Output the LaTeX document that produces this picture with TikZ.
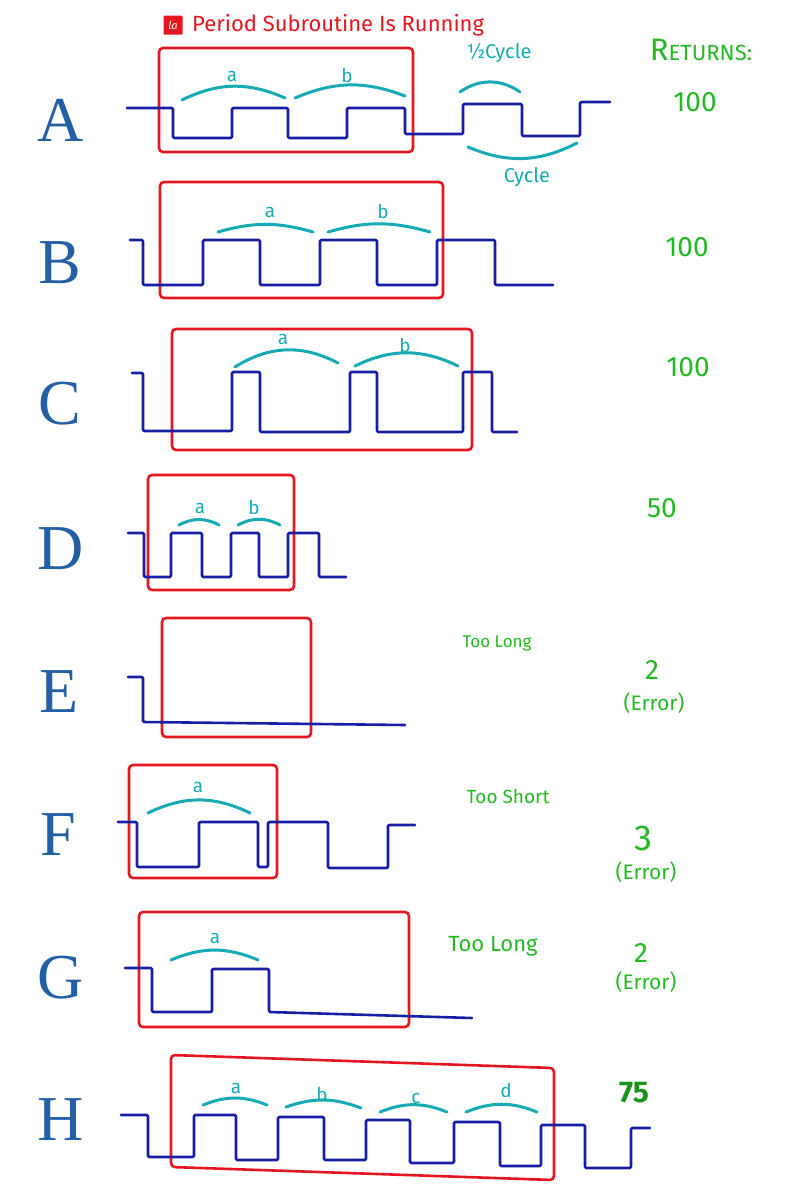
\documentclass[tikz,border=0pt]{standalone}
\usepackage{fontspec}
\usepackage{xcolor}
\usepackage{tikz}
\usetikzlibrary{positioning}

\newfontfamily\handfont{Fira Sans}
\newfontfamily\letterfont{Liberation Serif}

\definecolor{waveblue}{RGB}{22,30,165}
\definecolor{boxred}{RGB}{228,22,32}
\definecolor{spancyan}{RGB}{22,170,180}
\definecolor{retgreen}{RGB}{35,185,35}
\definecolor{lettblue}{RGB}{35,95,165}

\begin{document}
\begin{tikzpicture}[
      x=1pt, y=-1pt,
      wave/.style={draw=waveblue, line width=2.6pt, rounded corners=1.2pt, line join=round, line cap=round},
      runbox/.style={draw=boxred, line width=2.6pt, rounded corners=4pt},
      span/.style={draw=spancyan, line width=3pt, line cap=round},
      spanlbl/.style={text=spancyan, font=\handfont\fontsize{19}{19}\selectfont, inner sep=0pt},
      rowlbl/.style={text=lettblue, font=\letterfont\fontsize{64}{64}\selectfont, inner sep=0pt},
      ret/.style={text=retgreen, font=\handfont\fontsize{28}{28}\selectfont, inner sep=0pt},
      err/.style={text=retgreen, font=\handfont\fontsize{21}{21}\selectfont, inner sep=0pt},
      why/.style={text=retgreen, font=\handfont\fontsize{17}{17}\selectfont, inner sep=0pt}
    ]
    \useasboundingbox (0,0) rectangle (796,1200);

    % header
    \node[fill=boxred, minimum size=19pt, inner sep=0pt, rounded corners=1pt, text=white,
      font=\handfont\itshape\fontsize{11}{11}\selectfont] (logo) at (173,25) {la};
    \node[anchor=west, text=boxred, font=\handfont\fontsize{22}{22}\selectfont, inner sep=0pt]
      (title) at (192,25) {Period Subroutine Is Running};
    \node[text=retgreen, font=\handfont\fontsize{22}{22}\selectfont, inner sep=0pt]
      (returns) at (701,50) {{\fontsize{31}{31}\selectfont R}ETURNS:};

    % row labels
    \node[rowlbl] (rA) at (61,120) {A};
    \node[rowlbl] (rB) at (60,263) {B};
    \node[rowlbl] (rC) at (60,404) {C};
    \node[rowlbl] (rD) at (61,549) {D};
    \node[rowlbl] (rE) at (59,692) {E};
    \node[rowlbl] (rF) at (58,835) {F};
    \node[rowlbl] (rG) at (61,978) {G};
    \node[rowlbl] (rH) at (61,1120) {H};

    % A
    \draw[runbox] (159,48) rectangle (413,152);
    \draw[wave] (127,108) -- (173,108) -- (173,138) -- (232,138) -- (232,108) -- (288,108)
      -- (288,138) -- (347,138) -- (347,108) -- (405,108) -- (405,134) -- (463,134)
      -- (463,104) -- (522,104) -- (522,136) -- (580,136) -- (580,102) -- (610,102);
    \draw[span] (182,100) to[bend left=25] (285,98);
    \draw[span] (295,98) to[bend left=22] (405,96);
    \node[spanlbl] (aA) at (232,76) {a};
    \node[spanlbl] (bA) at (347,75) {b};
    \draw[span] (460,92) to[bend left=35] (520,92);
    \node[text=spancyan, font=\handfont\fontsize{20}{20}\selectfont, inner sep=0pt] (half) at (499,53) {½Cycle};
    \draw[span] (468,147) to[bend right=25] (577,143);
    \node[text=spancyan, font=\handfont\fontsize{20}{20}\selectfont, inner sep=0pt] (cyc) at (527,177) {Cycle};
    \node[ret] (retA) at (695,102) {100};

    % B
    \draw[runbox] (160,182) rectangle (443,298);
    \draw[wave] (130,240) -- (143,240) -- (143,285) -- (203,285) -- (203,240) -- (260,240)
      -- (260,285) -- (320,285) -- (320,240) -- (377,240) -- (377,285) -- (437,285)
      -- (437,240) -- (495,240) -- (495,285) -- (553,285);
    \draw[span] (218,232) to[bend left=16] (313,232);
    \draw[span] (328,232) to[bend left=16] (430,232);
    \node[spanlbl] (aB) at (270,212) {a};
    \node[spanlbl] (bB) at (383,211) {b};
    \node[ret] (retB) at (687,247) {100};

    % C
    \draw[runbox] (172,329) rectangle (472,450);
    \draw[wave] (132,373) -- (143,373) -- (143,431) -- (232,431) -- (232,372) -- (260,372)
      -- (260,432) -- (350,432) -- (350,372) -- (377,372) -- (377,432) -- (463,432)
      -- (463,372) -- (492,372) -- (492,432) -- (517,432);
    \draw[span] (235,367) to[bend left=30] (338,363);
    \draw[span] (355,366) to[bend left=26] (458,366);
    \node[spanlbl] (aC) at (283,339) {a};
    \node[spanlbl] (bC) at (405,345) {b};
    \node[ret] (retC) at (688,367) {100};

    % D
    \draw[runbox] (148,475) rectangle (294,590);
    \draw[wave] (128,533) -- (144,533) -- (144,577) -- (171,577) -- (171,533) -- (202,533)
      -- (202,577) -- (231,577) -- (231,533) -- (259,533) -- (259,577) -- (288,577)
      -- (288,533) -- (319,533) -- (319,577) -- (346,577);
    \draw[span] (179,525) to[bend left=28] (219,525);
    \draw[span] (238,525) to[bend left=28] (280,525);
    \node[spanlbl] (aD) at (200,508) {a};
    \node[spanlbl] (bD) at (254,507) {b};
    \node[ret] (retD) at (662,508) {50};

    % E
    \draw[runbox] (162,618) rectangle (311,737);
    \draw[wave] (128,677) -- (143,677) -- (143,722) -- (405,725);
    \node[why] (whyE) at (497,643) {Too Long};
    \node[ret] (retE) at (652,670) {2};
    \node[err] (errE) at (654,703) {(Error)};

    % F
    \draw[runbox] (129,765) rectangle (277,878);
    \draw[wave] (118,822) -- (137,822) -- (137,867) -- (199,867) -- (199,822) -- (258,822)
      -- (258,867) -- (268,867) -- (268,822) -- (328,822) -- (328,868) -- (388,868)
      -- (388,825) -- (415,825);
    \draw[span] (148,813) to[bend left=26] (250,813);
    \node[spanlbl] (aF) at (198,787) {a};
    \node[why, font=\handfont\fontsize{19}{19}\selectfont] (whyF) at (508,796) {Too Short};
    \node[ret, font=\handfont\fontsize{36}{36}\selectfont] (retF) at (643,838) {3};
    \node[err] (errF) at (646,872) {(Error)};

    % G
    \draw[runbox] (139,912) rectangle (409,1027);
    \draw[wave] (125,968) -- (152,968) -- (152,1012) -- (212,1012) -- (212,969) -- (269,969)
      -- (269,1012) -- (472,1018);
    \draw[span] (171,960) to[bend left=23] (258,960);
    \node[spanlbl] (aG) at (215,938) {a};
    \node[why, font=\handfont\fontsize{22}{22}\selectfont] (whyG) at (493,946) {Too Long};
    \node[ret] (retG) at (641,953) {2};
    \node[err] (errG) at (646,982) {(Error)};

    % H
    \draw[runbox] (171,1055) -- (554,1068) -- (554,1180) -- (171,1167) -- cycle;
    \draw[wave] (121,1115) -- (148,1115) -- (148,1157) -- (194,1157) -- (194,1115) -- (236,1115)
      -- (236,1160) -- (278,1160) -- (278,1117) -- (324,1117) -- (324,1160) -- (366,1160)
      -- (366,1120) -- (410,1120) -- (410,1163) -- (454,1163) -- (454,1122) -- (500,1122)
      -- (500,1166) -- (541,1166) -- (541,1125) -- (585,1125) -- (585,1168) -- (631,1168)
      -- (631,1128) -- (650,1128);
    \draw[span] (203,1105) to[bend left=22] (267,1105);
    \draw[span] (286,1107) to[bend left=20] (361,1108);
    \draw[span] (380,1112) to[bend left=22] (447,1112);
    \draw[span] (466,1112) to[bend left=22] (537,1112);
    \node[spanlbl] (aH) at (236,1088) {a};
    \node[spanlbl] (bH) at (322,1094) {b};
    \node[spanlbl] (cH) at (416,1098) {c};
    \node[spanlbl] (dH) at (506,1090) {d};
    \node[ret, text=retgreen!80!black, font=\handfont\bfseries\fontsize{30}{30}\selectfont] (retH) at (634,1093) {75};
  \end{tikzpicture}
\end{document}
